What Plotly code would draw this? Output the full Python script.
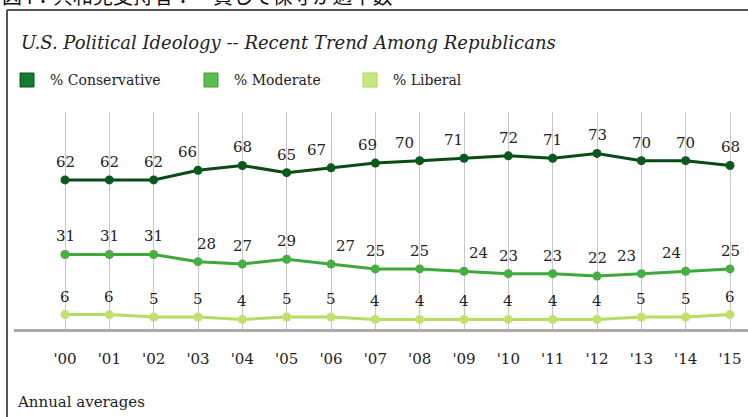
import plotly.graph_objects as go

# Gallup annual averages, Republicans' self-described ideology
years = ["'00", "'01", "'02", "'03", "'04", "'05", "'06", "'07",
         "'08", "'09", "'10", "'11", "'12", "'13", "'14", "'15"]
conservative = [62, 62, 62, 66, 68, 65, 67, 69, 70, 71, 72, 71, 73, 70, 70, 68]
moderate = [31, 31, 31, 28, 27, 29, 27, 25, 25, 24, 23, 23, 22, 23, 24, 25]
liberal = [6, 6, 5, 5, 4, 5, 5, 4, 4, 4, 4, 4, 4, 5, 5, 6]

# horizontal nudges (px) for value labels that would otherwise collide
cons_label_dx = [0, 0, 0, -11, 0, 0, -15, -8, -15, -11, 0, 0, 0, 0, 0, 0]
mod_label_dx = [0, 0, 0, 8, 0, 0, 14, 0, 0, 14, 0, 0, 0, -15, -14, 0]
lib_label_dx = [0] * 16

W, H = 748, 417
ML, MR, MT, MB = 14, 0, 112, 88
PW, PH = W - ML - MR, H - MT - MB


def fx(p):
    return (p - ML) / PW


def fy(p):
    return (H - MB - p) / PH


SERIF = "DejaVu Serif"
TXT = "#222222"

series = [
    ("% Conservative", conservative, cons_label_dx, "#0b4a16", "#0a5a1e", "#127a33", "#0b4d1c", 20, 48),
    ("% Moderate", moderate, mod_label_dx, "#3ea93a", "#45b040", "#5cbd50", "#3d9a36", 204, 232),
    ("% Liberal", liberal, lib_label_dx, "#b6dc62", "#bfe26c", "#c7e77c", "#aed45d", 363, 391),
]

xs = list(range(len(years)))
fig = go.Figure()
annotations = []
shapes = []

for name, vals, dxs, lc, mc, sq, sqb, sqx, tx in series:
    fig.add_trace(go.Scatter(
        x=xs, y=vals, mode="lines+markers", name=name,
        line=dict(color=lc, width=3),
        marker=dict(color=mc, size=9),
        hoverinfo="skip", showlegend=False,
    ))
    for x, v, dx in zip(xs, vals, dxs):
        annotations.append(dict(
            x=x, y=v, xref="x", yref="y", text=str(v), showarrow=False,
            xshift=dx, yshift=18, yanchor="middle",
            font=dict(family=SERIF, size=15, color=TXT),
        ))
    # legend swatch and label
    shapes.append(dict(type="rect", xref="paper", yref="paper",
                       x0=fx(sqx), x1=fx(sqx + 14), y0=fy(87), y1=fy(73),
                       fillcolor=sq, line=dict(color=sqb, width=1)))
    annotations.append(dict(x=fx(tx), y=fy(80), xref="paper", yref="paper",
                            text=name, showarrow=False, xanchor="left", yanchor="middle",
                            font=dict(family=SERIF, size=14, color=TXT)))

# frame lines
shapes.append(dict(type="line", xref="paper", yref="paper",
                   x0=fx(7), x1=fx(W), y0=fy(10), y1=fy(10),
                   line=dict(color="#555555", width=2)))
shapes.append(dict(type="line", xref="paper", yref="paper",
                   x0=fx(7), x1=fx(7), y0=fy(10), y1=fy(H + 5),
                   line=dict(color="#555555", width=2)))

# page heading sitting above the frame
annotations.append(dict(x=fx(0), y=fy(-5), xref="paper", yref="paper",
                        text="図4：共和党支持者：一貫して保守が過半数",
                        showarrow=False, xanchor="left", yanchor="middle",
                        font=dict(family="Noto Sans CJK JP", size=20, color="#111111")))

# chart title
annotations.append(dict(x=fx(19), y=fy(43), xref="paper", yref="paper",
                        text="<i>U.S. Political Ideology -- Recent Trend Among Republicans</i>",
                        showarrow=False, xanchor="left", yanchor="middle",
                        font=dict(family=SERIF, size=18, color=TXT)))

# footnote
annotations.append(dict(x=fx(15), y=fy(402), xref="paper", yref="paper",
                        text="Annual averages", showarrow=False,
                        xanchor="left", yanchor="middle",
                        font=dict(family=SERIF, size=15, color=TXT)))

s = (730 - 65) / 15.0
xmin = -(65 - ML) / s
xmax = xmin + PW / s

fig.update_layout(
    width=W, height=H,
    margin=dict(l=ML, r=MR, t=MT, b=MB),
    paper_bgcolor="white", plot_bgcolor="white",
    showlegend=False,
    font=dict(family=SERIF),
    annotations=annotations,
    shapes=shapes,
    xaxis=dict(
        range=[xmin, xmax], tickmode="array", tickvals=xs, ticktext=years,
        showgrid=True, gridcolor="#c6c6c6", gridwidth=1,
        showline=True, linecolor="#aaaaaa", linewidth=3,
        ticks="", ticklabelstandoff=14, zeroline=False,
        tickfont=dict(family=SERIF, size=15, color=TXT),
        fixedrange=True,
    ),
    yaxis=dict(
        range=[0, PH / 2.405], visible=False, showgrid=False, zeroline=False,
        fixedrange=True,
    ),
)

fig.write_html("out.html")
